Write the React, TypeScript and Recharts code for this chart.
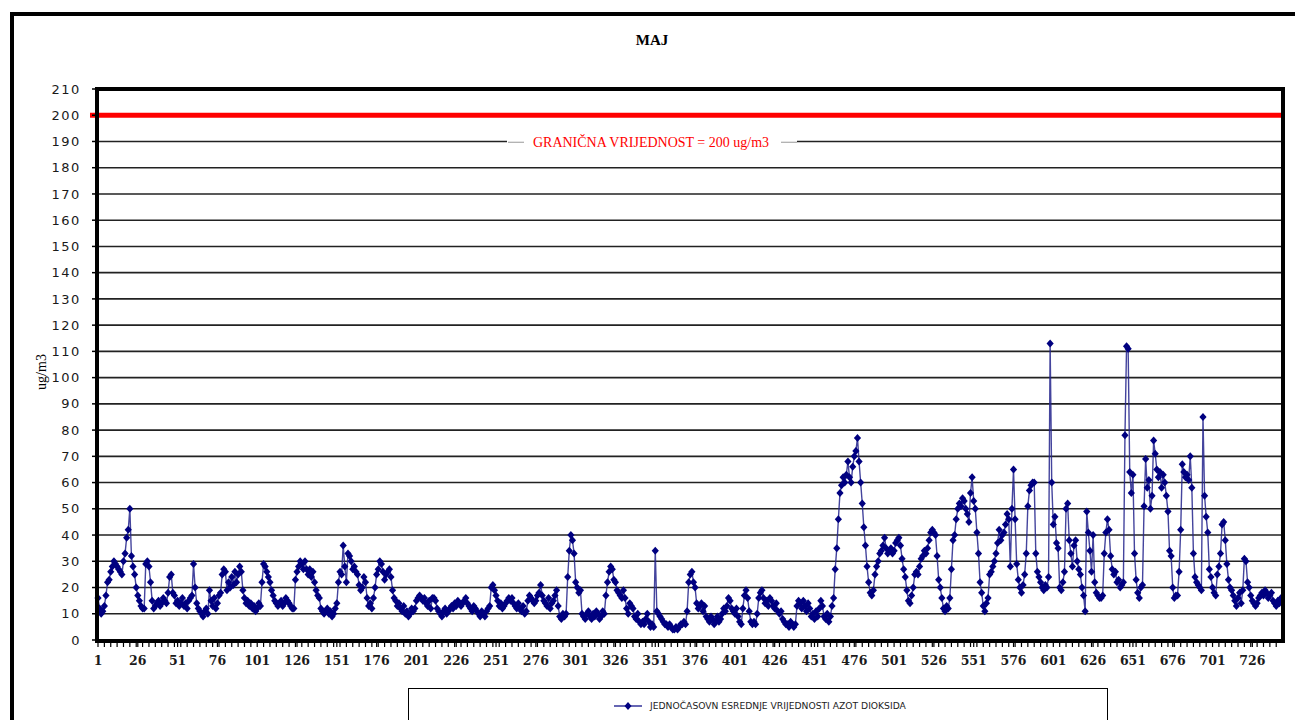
import { LineChart, Line, XAxis, YAxis, CartesianGrid, ReferenceLine } from "recharts";

// hourly NO2 values for May (744 hours) in chunks
const h001_060 = [
  16, 12, 10, 11, 13, 17, 22, 23, 26, 28, 30, 29, 28, 27, 26, 25, 30, 33, 39, 42,
  50, 32, 28, 25, 20, 17, 15, 13, 12, 12, 29, 30, 28, 22, 15, 12, 13, 14, 15, 13,
  14, 16, 15, 14, 18, 24, 25, 18, 17, 14, 15, 13, 14, 16, 13, 14, 12, 15, 16, 17,
];
const h061_130 = [
  29, 20, 14, 12, 11, 10, 9, 11, 12, 10, 19, 15, 13, 16, 12, 14, 17, 18, 25, 27,
  26, 19, 22, 20, 24, 21, 26, 22, 25, 28, 26, 19, 16, 14, 15, 13, 14, 12, 13, 11,
  12, 14, 13, 22, 29, 28, 26, 24, 22, 19, 17, 15, 14, 13, 14, 15, 13, 14, 16, 15,
  14, 13, 12, 12, 23, 26, 28, 30, 29, 27,
];
const h131_200 = [
  30, 27, 25, 27, 24, 26, 22, 19, 17, 16, 12, 11, 10, 11, 12, 10, 11, 9, 10, 12,
  14, 22, 26, 25, 36, 28, 22, 33, 32, 30, 27, 28, 26, 25, 21, 19, 20, 24, 22, 16,
  13, 14, 12, 16, 20, 25, 27, 30, 29, 26, 23, 25, 26, 27, 24, 19, 16, 15, 13, 14,
  12, 11, 13, 10, 11, 9, 10, 12, 11, 12,
];
const h201_265 = [
  15, 16, 17, 16, 15, 16, 14, 13, 15, 12, 16, 16, 15, 12, 11, 10, 9, 11, 12, 10,
  11, 12, 13, 12, 14, 13, 15, 14, 13, 14, 15, 16, 14, 13, 12, 11, 13, 12, 11, 10,
  9, 11, 10, 9, 11, 12, 13, 20, 21, 19, 17, 15, 13, 14, 12, 13, 14, 15, 16, 15,
  16, 14, 13, 12, 14,
];
const h266_334 = [
  12, 11, 13, 10, 11, 15, 17, 16, 15, 14, 15, 17, 18, 21, 17, 15, 14, 13, 16, 12,
  14, 15, 17, 19, 13, 9, 8, 10, 9, 10, 24, 34, 40, 38, 33, 22, 20, 18, 19, 10,
  9, 8, 10, 11, 9, 8, 10, 9, 11, 10, 8, 9, 11, 10, 17, 22, 26, 28, 27, 23,
  22, 19, 18, 17, 16, 19, 16, 12, 10,
];
const h335_400 = [
  14, 13, 12, 9, 8, 10, 7, 6, 7, 6, 8, 10, 7, 5, 6, 5, 34, 11, 10, 9,
  8, 7, 6, 6, 5, 6, 5, 4, 4, 5, 4, 5, 6, 6, 7, 6, 11, 22, 25, 26,
  22, 20, 14, 12, 13, 14, 11, 13, 9, 8, 7, 9, 8, 6, 7, 9, 7, 8, 10, 12,
  11, 13, 16, 15, 12, 11,
];
const h401_468 = [
  10, 12, 9, 7, 6, 12, 17, 19, 16, 11, 7, 6, 7, 6, 10, 16, 18, 19, 16, 14,
  15, 13, 16, 15, 13, 12, 14, 11, 10, 11, 8, 7, 6, 6, 5, 7, 6, 5, 6, 13,
  15, 14, 12, 15, 13, 11, 14, 12, 9, 10, 8, 11, 9, 12, 15, 13, 9, 8, 10, 7,
  9, 13, 16, 27, 35, 46, 56, 59,
];
const h469_536 = [
  62, 60, 63, 68, 62, 60, 66, 70, 72, 77, 68, 60, 52, 43, 36, 28, 22, 18, 17, 19,
  25, 28, 30, 33, 34, 36, 39, 35, 33, 34, 35, 33, 34, 37, 38, 39, 36, 31, 27, 24,
  19, 15, 14, 17, 20, 25, 26, 25, 28, 31, 32, 34, 33, 35, 38, 41, 42, 41, 40, 32,
  23, 20, 16, 12, 11, 13, 12, 16,
];
const h537_604 = [
  27, 38, 40, 46, 50, 52, 51, 54, 53, 50, 48, 45, 56, 62, 53, 50, 41, 33, 22, 18,
  13, 11, 14, 16, 25, 26, 28, 30, 33, 37, 42, 38, 40, 41, 44, 48, 46, 28, 50, 65,
  46, 29, 23, 20, 18, 21, 25, 33, 51, 57, 59, 60, 60, 33, 26, 24, 22, 20, 19, 21,
  20, 24, 113, 60, 44, 47, 37, 35,
];
const h605_666 = [
  20, 19, 22, 26, 50, 52, 38, 33, 28, 36, 38, 30, 27, 25, 20, 17, 11, 49, 41, 34,
  26, 40, 22, 18, 17, 16, 16, 17, 33, 41, 46, 42, 32, 27, 25, 26, 22, 23, 20, 21,
  22, 78, 112, 111, 64, 56, 63, 33, 23, 18, 16, 20, 21, 51, 69, 58, 61, 50, 55, 76,
  71, 65,
];
const h667_744 = [
  62, 64, 58, 63, 60, 55, 49, 34, 32, 20, 16, 17, 17, 26, 42, 67, 64, 62, 63, 61,
  70, 58, 33, 24, 22, 21, 20, 19, 85, 55, 47, 41, 27, 24, 20, 18, 17, 25, 28, 33,
  44, 45, 38, 29, 23, 20, 19, 17, 15, 13, 16, 18, 14, 19, 31, 30, 22, 20, 17, 15,
  14, 13, 14, 16, 17, 18, 17, 19, 18, 16, 17, 18, 15, 14, 13, 15, 14, 16,
];

const yTicks = [0, 10, 20, 30, 40, 50, 60, 70, 80, 90, 100, 110, 120, 130, 140, 150, 160, 170, 180, 190, 200, 210];
const limitValue = 200;
const limitLabel = "GRANIČNA VRIJEDNOST = 200 ug/m3";
const seriesName = "JEDNOČASOVN ESREDNJE VRIJEDNOSTI AZOT DIOKSIDA";

const values = [
  ...h001_060, ...h061_130, ...h131_200, ...h201_265, ...h266_334, ...h335_400,
  ...h401_468, ...h469_536, ...h537_604, ...h605_666, ...h667_744,
];
const data = values.map((v, i) => ({ hour: i + 1, no2: v }));

const NAVY = "#000080";

function Diamond(props: any) {
  const { cx, cy, index } = props;
  if (cx == null || cy == null) return <g key={index} />;
  return (
    <path
      key={index}
      d={`M${cx},${cy - 4}L${cx + 3.6},${cy}L${cx},${cy + 4}L${cx - 3.6},${cy}Z`}
      fill={NAVY}
    />
  );
}

function HourTick(props: any) {
  const { x, y, payload } = props;
  const n = payload.value - 1;
  const major = n % 25 === 0;
  const minor = n % 4 === 0;
  return (
    <g>
      {(major || minor) && <line x1={x} x2={x} y1={y} y2={y + 7} stroke="#000" strokeWidth={1.2} />}
      {major && (
        <text x={x} y={y + 25} textAnchor="middle" fontSize={12.5} fontWeight="bold" fontFamily="DejaVu Serif" fill="#1a1a1a">
          {payload.value}
        </text>
      )}
    </g>
  );
}

function LimitLabel(props: any) {
  const { viewBox } = props;
  const y = viewBox.y + 27;
  const cx = 651;
  return (
    <g>
      <line x1={viewBox.x - 8} x2={viewBox.x} y1={viewBox.y} y2={viewBox.y} stroke="#ff0000" strokeWidth={5} />
      <rect x={cx - 144} y={y - 9} width={290} height={16} fill="#fff" />
      <line x1={cx - 143} x2={cx - 127} y1={y} y2={y} stroke="#999" strokeWidth={1} />
      <line x1={cx + 130} x2={cx + 146} y1={y} y2={y} stroke="#999" strokeWidth={1} />
      <text x={cx} y={y + 4.5} textAnchor="middle" fontSize={14} fontFamily="Liberation Serif" fill="#ff0000">
        {limitLabel}
      </text>
    </g>
  );
}

export default function App() {
  return (
    <div style={{ position: "fixed", left: 0, top: 0, width: 1295, height: 720, background: "#fff", overflow: "hidden" }}>
      <div style={{ position: "absolute", left: 10, top: 12, width: 1300, height: 730, border: "4px solid #000" }} />
      <div
        style={{
          position: "absolute", left: 0, width: 1304, top: 32, textAlign: "center",
          fontFamily: "Liberation Serif", fontWeight: "bold", fontSize: 15,
        }}
      >
        MAJ
      </div>
      <div
        style={{
          position: "absolute", left: 42, top: 372, transform: "translate(-50%, -50%) rotate(-90deg)",
          fontFamily: "Liberation Serif", fontSize: 14, whiteSpace: "nowrap",
        }}
      >
        ug/m3
      </div>
      <div style={{ position: "absolute", left: 0, top: 0 }}>
        <LineChart width={1295} height={720} data={data} margin={{ top: 89, right: 14, bottom: 50, left: 36 }}>
          <CartesianGrid vertical={false} stroke="#222" strokeWidth={1.6} />
          <XAxis
            dataKey="hour"
            type="category"
            interval={0}
            height={30}
            tick={<HourTick />}
            tickLine={false}
            tickSize={0}
            tickMargin={0}
            axisLine={false}
          />
          <YAxis
            domain={[0, 210]}
            ticks={yTicks}
            interval={0}
            width={62}
            tickSize={6}
            tickMargin={11}
            tickLine={{ stroke: "#000", strokeWidth: 1.5 }}
            axisLine={false}
            tick={{ fontSize: 13, fontFamily: "DejaVu Sans", fill: "#1a1a1a", letterSpacing: 1.6 }}
          />
          <ReferenceLine y={limitValue} stroke="#ff0000" strokeWidth={5} label={<LimitLabel />} />
          <Line
            dataKey="no2"
            name={seriesName}
            stroke="#23238c"
            strokeOpacity={0.85}
            strokeWidth={1.4}
            dot={(p: any) => <Diamond key={p.index} {...p} />}
            activeDot={false}
            isAnimationActive={false}
          />
        </LineChart>
      </div>
      <div
        style={{
          position: "absolute", left: 95, top: 87, width: 1190, height: 556,
          border: "4px solid #000", boxSizing: "border-box", pointerEvents: "none",
        }}
      />
      <div
        style={{
          position: "absolute", left: 408, top: 688, width: 700, height: 50,
          border: "1px solid #000", background: "#fff", boxSizing: "border-box",
        }}
      >
        <svg width={30} height={12} style={{ position: "absolute", left: 205, top: 11 }}>
          <line x1={0} x2={28} y1={6} y2={6} stroke={NAVY} strokeWidth={1.2} />
          <path d="M14,2L17.5,6L14,10L10.5,6Z" fill={NAVY} />
        </svg>
        <div
          style={{
            position: "absolute", left: 241, top: 11, fontSize: 9.2, lineHeight: "12px",
            fontFamily: "DejaVu Sans", color: "#222", whiteSpace: "nowrap",
          }}
        >
          {seriesName}
        </div>
      </div>
    </div>
  );
}
